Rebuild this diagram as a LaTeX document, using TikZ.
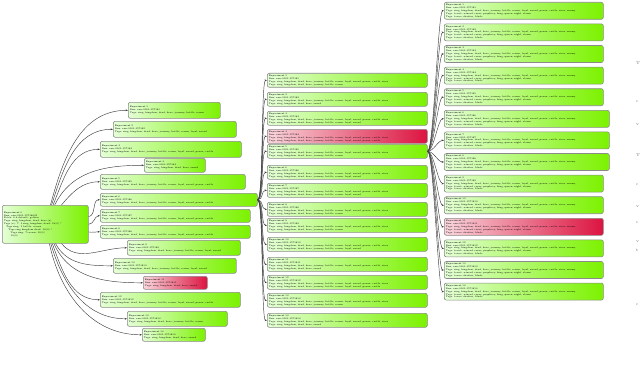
\documentclass[tikz,border=0pt]{standalone}
\usetikzlibrary{arrows.meta}
\definecolor{glight}{HTML}{E4FFD6}
\definecolor{gdark}{HTML}{7CF200}
\definecolor{rlight}{HTML}{F9D6DC}
\definecolor{rdark}{HTML}{DC1440}
\definecolor{bordc}{HTML}{8A8A8A}
\newcommand\bx[7]{%
  \pgfmathsetmacro\tw{#4-3}%
  \node[#6, text width=\tw pt, minimum height=#5pt, anchor=north west] (#1) at (#2,-#3) {#7};}
\newcommand\tgS{Tags: ring, kingdom, dead, hero, sword}
\newcommand\tgM{Tags: ring, kingdom, dead, hero, journey, battle, crown}
\newcommand\tgL{Tags: ring, kingdom, dead, hero, journey, battle, crown, loyal, sword}
\newcommand\tgX{Tags: ring, kingdom, dead, hero, journey, battle, crown, loyal, sword, power, castle}
\newcommand\tl[2]{Experiment #1\\Run: run-0001-15718#1\\#2}
\newcommand\tlc[2]{Experiment #1\\Run: run-0001-15718#1\\\tgX, river\\#2}
\newcommand\tlf[1]{Experiment #1\\Run: run-0001-15718#1\\\tgX, river, enemy\\Tags: forest, wizard, curse, prophecy, king, queen, night, storm\\Tags: tower, shadow, blade}
\begin{document}
\begin{tikzpicture}[x=1pt,y=1pt,
  gbox/.style={draw=bordc, line width=0.6pt, rounded corners=2pt, left color=glight, right color=gdark,
     inner xsep=1.5pt, inner ysep=0.8pt, align=left, font=\fontsize{2.3}{2.9}\selectfont},
  rbox/.style={gbox, left color=rlight, right color=rdark},
  conn/.style={draw=black!75, line width=0.45pt, -{Stealth[length=2.4pt,width=1.8pt]}},
  glyph/.style={text=black!60, font=\fontsize{4}{4}\selectfont, inner sep=0pt, anchor=west}]
\useasboundingbox (0,0) rectangle (640,-369);
% root
\bx{root}{2}{205}{86}{38}{gbox}{Experiment 0\\Run: run-0001-15718802\\Fetch: 6.6 default: golden\\Tags: ring, kingdom, dead, hero (x)\\Tags (x): 7: 3 ring, kingdom, dead: 18(0) ?\\\quad Tags ring: 5 battle: crown\\\quad\quad Tags ring kingdom dead: 18(0) ?\\\quad\quad\quad Tags ring: 7 crown: 18(0)\\\quad\quad\quad 18(0)}
% column 2
\bx{b1}{128}{102}{92}{16}{gbox}{\tl{1}{\tgM}}
\bx{b2}{113}{121}{123}{16}{gbox}{\tl{2}{\tgL}}
\bx{b3}{100}{141}{141}{16}{gbox}{\tl{3}{\tgX}}
\bx{b4}{144}{158}{61}{14}{gbox}{\tl{4}{\tgS}}
\bx{b5}{100}{174}{145}{15}{gbox}{\tl{5}{\tgX}}
\bx{b6}{100}{193}{157}{13}{gbox}{\tl{6}{\tgX}}
\bx{b7}{100}{209}{150}{13}{gbox}{\tl{7}{\tgX}}
\bx{b8}{100}{225}{150}{13}{gbox}{\tl{8}{\tgX}}
\bx{b9}{127}{240}{113}{15}{gbox}{\tl{9}{\tgL}}
\bx{b10}{113}{258}{123}{15}{gbox}{\tl{10}{\tgL}}
\bx{b11}{143}{276}{64}{13}{rbox}{\tl{11}{\tgS}}
\bx{b12}{100}{292}{140}{15}{gbox}{\tl{12}{\tgX}}
\bx{b13}{127}{311}{100}{15}{gbox}{\tl{13}{\tgM}}
\bx{b14}{142}{328}{63}{13}{gbox}{\tl{14}{\tgS}}
% root edges
\foreach \n/\o in {b1/75,b2/72,b3/68,b4/64,b5/50,b6/10,b7/0,b8/-10,b9/-50,b10/-62,b11/-66,b12/-70,b13/-74,b14/-78}
  \draw[conn] (root) to[out=\o,in=180] (\n.west);
% column 3
\foreach \i/\y/\s/\t in {1/73/gbox/\tgM,2/92/gbox/\tgS,3/111/gbox/\tgL,4/129/rbox/\tgX,5/144/gbox/\tgM,6/165/gbox/\tgL,7/183/gbox/\tgL,8/202/gbox/\tgM,9/218/gbox/\tgM,10/237/gbox/\tgL,11/257/gbox/\tgS,12/275/gbox/\tgX,13/293/gbox/\tgM,14/313/gbox/\tgS}{
  \bx{c\i}{267}{\y}{160}{14}{\s}{\tlc{\i}{\t}}
  \draw[conn] (b6.east) .. controls +(6,0) and +(-6,0) .. (c\i.west);
}
% column 4
\foreach \i/\w/\s in {1/159/gbox,2/159/gbox,3/159/gbox,4/159/gbox,5/159/gbox,6/165/gbox,7/165/gbox,8/165/gbox,9/159/gbox,10/159/gbox,11/159/rbox,12/159/gbox,13/159/gbox,14/159/gbox}{
  \pgfmathsetmacro\yy{2+(\i-1)*21.6}
  \bx{d\i}{444}{\yy}{\w}{17}{\s}{\tlf{\i}}
  \draw[conn] (c5.east) .. controls +(6,0) and +(-6,0) .. (d\i.west);
}
% cut-off text at the right edge
\foreach \g/\y in {T/63,c/102,v/125,T/155,c/185,v/207,c/223,v/242,t/250,c/305}
  \node[glyph] (g\y) at (636,-\y) {\g};
\end{tikzpicture}
\end{document}
